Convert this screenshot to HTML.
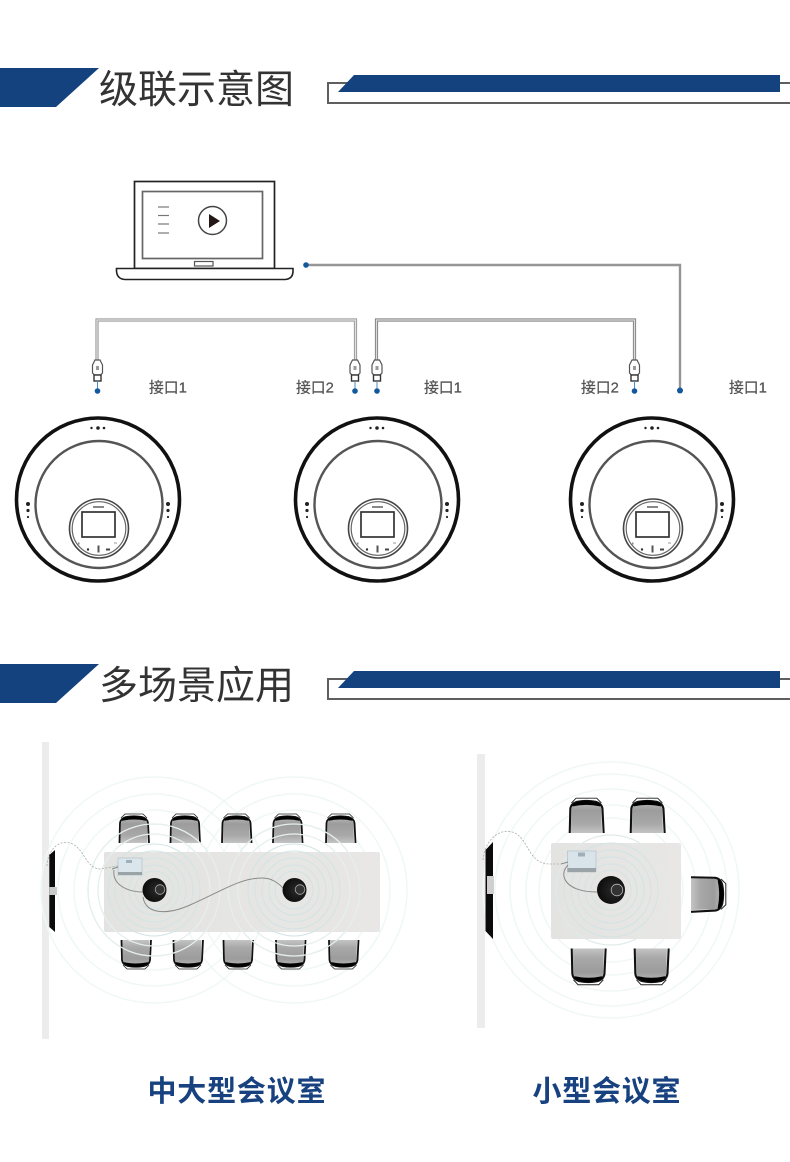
<!DOCTYPE html>
<html lang="zh">
<head>
<meta charset="utf-8">
<style>
html,body{margin:0;padding:0;background:#fff}
svg{display:block;filter:blur(0.35px)}
text{font-family:"Liberation Sans","Noto Sans CJK SC",sans-serif}
</style>
</head>
<body>
<svg width="790" height="1162" viewBox="0 0 790 1162" xmlns="http://www.w3.org/2000/svg">
<defs>
<linearGradient id="seat" x1="0" y1="0" x2="0" y2="1"><stop offset="0" stop-color="#b4b4b4"/><stop offset="0.25" stop-color="#9c9c9c"/><stop offset="0.7" stop-color="#a8a8a8"/><stop offset="1" stop-color="#c4c4c4"/></linearGradient>
<linearGradient id="tbl" x1="0" y1="0" x2="1" y2="0"><stop offset="0" stop-color="#e3e3e1"/><stop offset="1" stop-color="#e8e7e5"/></linearGradient>
<radialGradient id="spk" cx="0.6" cy="0.5" r="0.6"><stop offset="0" stop-color="#2a2a2a"/><stop offset="1" stop-color="#0c0c0c"/></radialGradient>

<g id="speaker">
  <circle cx="0" cy="0" r="81.500" fill="#fff" stroke="#111" stroke-width="3.600"/>
  <circle cx="1" cy="5" r="63.500" fill="#fff" stroke="#555" stroke-width="2.400"/>
  <circle cx="1" cy="29" r="29.500" fill="#fff" stroke="#444" stroke-width="1.600"/>
  <circle cx="1" cy="29" r="26.800" fill="#fff" stroke="#666" stroke-width="1.200"/>
  <rect x="-16" y="12.500" width="33" height="25" fill="#fff" stroke="#333" stroke-width="1.700"/>
  <rect x="-5" y="6.500" width="11" height="2" fill="#888"/>
  <circle cx="-10" cy="50" r="1.200" fill="#333"/><rect x="-0.500" y="46" width="2" height="7" fill="#555"/><rect x="8" y="49" width="4" height="2" fill="#444"/>
  <rect x="-20" y="43" width="1.500" height="2" fill="#888"/><rect x="16" y="43" width="3" height="1" fill="#999"/>
  <circle cx="-6.500" cy="-71.500" r="1.200" fill="#222"/><circle cx="0" cy="-71.500" r="1.800" fill="#222"/><circle cx="6" cy="-71.500" r="1.300" fill="#222"/>
  <circle cx="-70" cy="4.500" r="2" fill="#222"/><circle cx="-70" cy="11" r="1.600" fill="#222"/><circle cx="-70" cy="17.500" r="1.100" fill="#222"/>
  <circle cx="70" cy="4.500" r="2" fill="#222"/><circle cx="70" cy="11" r="1.600" fill="#222"/><circle cx="70" cy="17.500" r="1.100" fill="#222"/>
</g>

<g id="plug">
  <path d="M-2.500,0 L2.500,0 L5,5 L5,13 L3,15 L-3,15 L-5,13 L-5,5 Z" fill="#fff" stroke="#555" stroke-width="1.200"/>
  <rect x="-1.500" y="6" width="3" height="4" fill="#999"/>
  <rect x="-3.500" y="15" width="7" height="6" fill="#fff" stroke="#333" stroke-width="1.400"/>
  <line x1="0" y1="21" x2="0" y2="30" stroke="#4d8cc0" stroke-width="1"/>
  <circle cx="0" cy="31" r="2.800" fill="#14589c"/>
</g>

<g id="chair">
  <path d="M2.500,30 L3,10 Q3.500,6.500 8,5.500 Q16,4 24,5.500 Q28.500,6.500 29,10 L29.500,30 Z" fill="url(#seat)"/>
  <path d="M3,5 L7,1 L25,1 L29,5" fill="none" stroke="#222" stroke-width="0.800"/>
  <path d="M1.500,30 L2,10 Q2.500,5.500 8,4 Q16,2.500 24,4 Q29.500,5.500 30,10 L31,30" fill="none" stroke="#111" stroke-width="1.800"/>
  <path d="M4,7 Q16,0.500 28,7 Q16,4.500 4,7 Z" fill="#000" stroke="#000" stroke-width="1.600"/>
</g>
</defs>

<rect width="790" height="1162" fill="#fff"/>

<!-- Header 1 -->
<polygon points="0,68 99,68 56,107 0,107" fill="#14427f"/>
<text x="99" y="103" font-size="39" fill="#333">级联示意图</text>
<path d="M790,83 L328,83 L328,103 L790,103" fill="none" stroke="#5f5f5f" stroke-width="2"/>
<polygon points="354,75 780,75 780,92 338,92" fill="#14427f"/>

<!-- Laptop -->
<rect x="134.500" y="181.500" width="140" height="87" fill="#fff" stroke="#222" stroke-width="1.700"/>
<rect x="142.500" y="191.500" width="120" height="67" fill="#fff" stroke="#666" stroke-width="1.700"/>
<g stroke="#777" stroke-width="1.200"><line x1="158" y1="207" x2="169" y2="207"/><line x1="158" y1="215.500" x2="169" y2="215.500"/><line x1="158" y1="224" x2="169" y2="224"/><line x1="158" y1="233" x2="169" y2="233"/></g>
<circle cx="212.500" cy="220.500" r="14" fill="#fff" stroke="#444" stroke-width="1.500"/>
<polygon points="209,214 209,228 220,221" fill="#231815"/>
<rect x="194.500" y="261.500" width="18.500" height="4.500" fill="#fff" stroke="#555" stroke-width="1.200"/>
<path d="M116.500,268.500 L293,268.500 L293,271 Q293,279 285,279.500 L125,279.500 Q117,279 116.500,271 Z" fill="#fff" stroke="#222" stroke-width="1.600"/>

<!-- Cables -->
<g fill="none">
  <path d="M306,265 L680,265 L680,390" stroke="#969696" stroke-width="2.400"/>
  <path d="M97,360 L97,320 L355.500,320 L355.500,360" stroke="#9a9a9a" stroke-width="3.200"/>
  <path d="M97,360 L97,320 L355.500,320 L355.500,360" stroke="#e2e2e2" stroke-width="1.200"/>
  <path d="M376.500,360 L376.500,320 L634.500,320 L634.500,360" stroke="#858585" stroke-width="3.200"/>
  <path d="M376.500,360 L376.500,320 L634.500,320 L634.500,360" stroke="#dcdcdc" stroke-width="1.200"/>
</g>
<circle cx="306" cy="265" r="2.800" fill="#14589c"/>
<circle cx="680" cy="390.500" r="3" fill="#14589c"/>
<use href="#plug" x="97.500" y="360"/>
<use href="#plug" x="355" y="360"/>
<use href="#plug" x="377" y="360"/>
<use href="#plug" x="634.500" y="360"/>

<g font-size="14.800" fill="#555" stroke="#555" stroke-width="0.250">
  <text x="149" y="392.500">接口1</text>
  <text x="296" y="392.500">接口2</text>
  <text x="424" y="392.500">接口1</text>
  <text x="581" y="392.500">接口2</text>
  <text x="729" y="392.500">接口1</text>
</g>

<use href="#speaker" x="98" y="499.500"/>
<use href="#speaker" x="377" y="499.500"/>
<use href="#speaker" x="652" y="499.500"/>

<!-- Header 2 -->
<polygon points="0,664 99,664 56,703 0,703" fill="#14427f"/>
<text x="99" y="699" font-size="39" fill="#333">多场景应用</text>
<path d="M790,679 L328,679 L328,699 L790,699" fill="none" stroke="#5f5f5f" stroke-width="2"/>
<polygon points="354,671 780,671 780,688 338,688" fill="#14427f"/>

<!-- Medium/large room -->
<rect x="42" y="742" width="7" height="297" fill="#ececec"/>
<g fill="none" stroke="#f0f7f7" stroke-width="1.500">
  <circle cx="154" cy="890" r="113"/><circle cx="154" cy="890" r="96"/><circle cx="154" cy="890" r="80"/><circle cx="154" cy="890" r="66"/>
  <circle cx="294" cy="890" r="113"/><circle cx="294" cy="890" r="96"/><circle cx="294" cy="890" r="80"/><circle cx="294" cy="890" r="66"/>
</g>
<use href="#chair" x="118" y="813"/><use href="#chair" x="169" y="813"/><use href="#chair" x="220.500" y="813"/><use href="#chair" x="271.500" y="813"/><use href="#chair" x="324.500" y="813"/>
<g transform="translate(0,1809) scale(1,-1)"><use href="#chair" x="120" y="839"/><use href="#chair" x="172" y="839"/><use href="#chair" x="222" y="839"/><use href="#chair" x="274.500" y="839"/><use href="#chair" x="327.500" y="839"/></g>
<rect x="104" y="852" width="276" height="80" rx="2" fill="url(#tbl)"/>
<g fill="none" stroke="#e6eeee" stroke-width="1.300">
  <circle cx="154" cy="890" r="66"/><circle cx="294" cy="890" r="66"/>
  <circle cx="154" cy="890" r="56"/><circle cx="294" cy="890" r="56"/>
</g>
<g fill="none" stroke="#d2e4e4" stroke-width="1.100">
  <circle cx="154" cy="890" r="46"/><circle cx="154" cy="890" r="39"/><circle cx="154" cy="890" r="32"/><circle cx="154" cy="890" r="25"/><circle cx="154" cy="890" r="19"/>
  <circle cx="294" cy="890" r="46"/><circle cx="294" cy="890" r="39"/><circle cx="294" cy="890" r="32"/><circle cx="294" cy="890" r="25"/><circle cx="294" cy="890" r="19"/>
</g>
<rect x="118" y="858" width="24" height="17" fill="#dbe5ec" stroke="#b5c0c6" stroke-width="0.700"/>
<rect x="118" y="872" width="24" height="3" fill="#9aa3a8"/>
<rect x="126" y="860" width="6" height="3" fill="#9fb0ba"/>
<g fill="none" stroke="#8a8a8a" stroke-width="1">
  <path d="M114,870 C112,885 128,892 143,892"/>
  <path d="M143,897 C146,916 170,914 190,905 C220,892 240,878 262,878 C272,878 278,883 283,888"/>
  <path d="M112,869 L118,867"/>
</g>
<path d="M47,866 C48,848 60,840 70,843 C85,848 85,868 100,869 L118,866" fill="none" stroke="#aaa" stroke-width="0.800" stroke-dasharray="2 1.500"/>
<circle cx="154.500" cy="890" r="12" fill="url(#spk)"/><circle cx="160" cy="889.500" r="4.800" fill="#333" stroke="#aaa" stroke-width="0.800"/>
<circle cx="294.500" cy="890" r="12" fill="url(#spk)"/><circle cx="300" cy="889.500" r="4.800" fill="#333" stroke="#aaa" stroke-width="0.800"/>
<polygon points="49.300,855 55,850 55,932 49.300,927" fill="#0b0b0b"/>
<rect x="49.500" y="887" width="7.500" height="8" fill="#c9c9c9"/>

<!-- Small room -->
<rect x="477" y="754" width="8" height="274" fill="#ececec"/>
<g fill="none" stroke="#f0f7f7" stroke-width="1.500">
  <circle cx="611" cy="890" r="128"/><circle cx="611" cy="890" r="116"/><circle cx="611" cy="890" r="101"/><circle cx="611" cy="890" r="85"/><circle cx="611" cy="890" r="72"/>
</g>
<g transform="translate(568,797) scale(1.150,1.200)"><use href="#chair"/></g>
<g transform="translate(629,797) scale(1.150,1.200)"><use href="#chair"/></g>
<g transform="translate(570,986) scale(1.150,-1.250)"><use href="#chair"/></g>
<g transform="translate(633,986) scale(1.150,-1.250)"><use href="#chair"/></g>
<g transform="translate(727,875.500) rotate(90) scale(1.170,1.200)"><use href="#chair"/></g>
<rect x="551" y="843" width="130" height="96" rx="2" fill="url(#tbl)"/>
<circle cx="611" cy="890" r="55" fill="none" stroke="#e0eaea" stroke-width="1.200"/>
<g fill="none" stroke="#d2e4e4" stroke-width="1.100">
  <circle cx="611" cy="890" r="47"/><circle cx="611" cy="890" r="40"/><circle cx="611" cy="890" r="33"/><circle cx="611" cy="890" r="26"/><circle cx="611" cy="890" r="20"/>
</g>
<rect x="567.500" y="851" width="28.500" height="21" fill="#d8e3ea" stroke="#b5c0c6" stroke-width="0.700"/>
<rect x="567.500" y="868" width="28.500" height="4" fill="#9aa3a8"/>
<rect x="578" y="852.500" width="7" height="4" fill="#9fb0ba"/>
<g fill="none" stroke="#8a8a8a" stroke-width="1">
  <path d="M568,865 C558,875 565,892 597,892"/>
  <path d="M561,864 L568,862"/>
</g>
<path d="M483,860 C485,836 505,825 518,835 C530,845 530,865 552,864 L561,864" fill="none" stroke="#aaa" stroke-width="0.800" stroke-dasharray="2 1.500"/>
<circle cx="611" cy="890" r="14" fill="url(#spk)"/><circle cx="617" cy="890" r="5.800" fill="#333" stroke="#bbb" stroke-width="0.800"/>
<polygon points="485.500,850 493,842 493,939 485.500,931" fill="#0b0b0b"/>
<rect x="487" y="876" width="7" height="18" fill="#cfcfcf"/>

<!-- Captions -->
<g font-weight="700" fill="#17427f" font-size="29">
  <text x="147.500" y="1101" textLength="178" lengthAdjust="spacing">中大型会议室</text>
  <text x="532.500" y="1101" textLength="148" lengthAdjust="spacing">小型会议室</text>
</g>
</svg>
</body>
</html>
